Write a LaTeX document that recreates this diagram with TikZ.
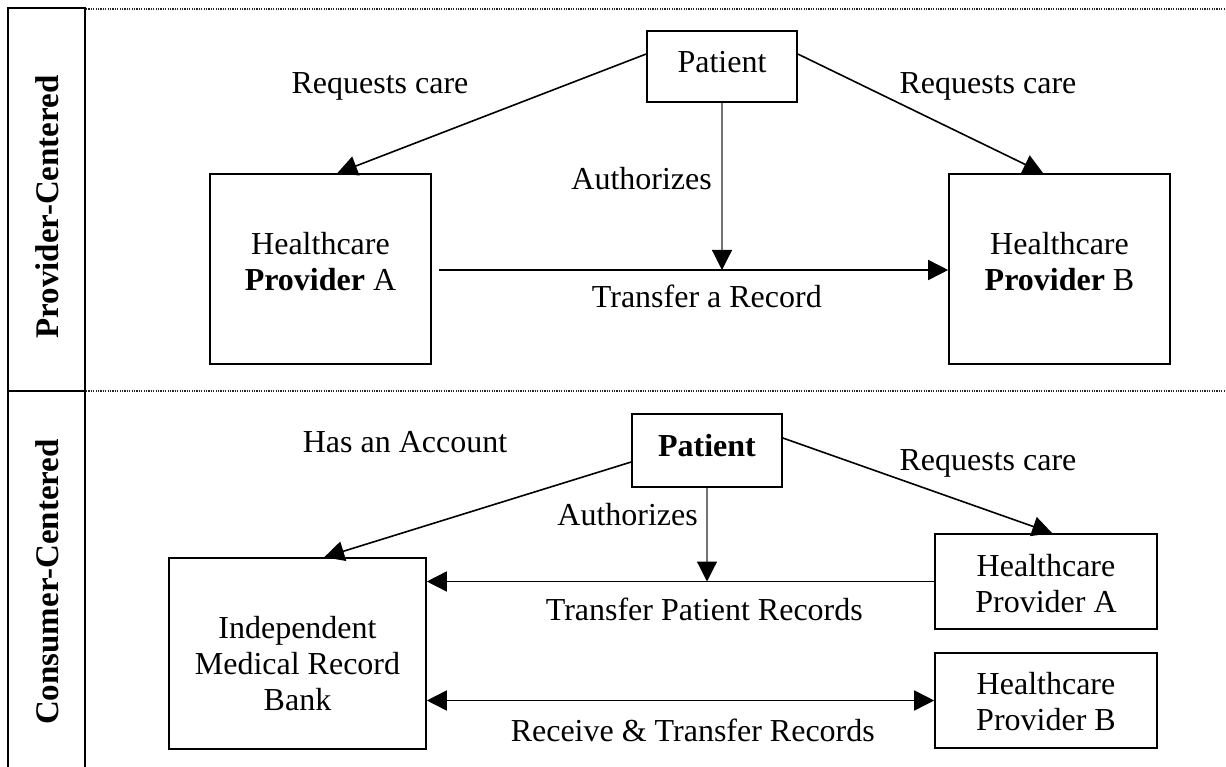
\documentclass[tikz,border=0pt]{standalone}
\usepackage{fontspec}
\setmainfont{Liberation Serif}
\usetikzlibrary{arrows.meta,calc}
\newcommand\diagfont{\fontsize{32}{36}\selectfont}
\newcommand\sidefont{\fontsize{33}{36}\selectfont\bfseries}
\tikzset{
  box/.style={draw, line width=1.6pt, inner sep=0pt},
  boxtext/.style={align=center, font=\diagfont, inner sep=0pt},
  arr/.style={-{Triangle[length=20pt,width=20pt]}, line width=1.6pt},
  darr/.style={{Triangle[length=20pt,width=20pt]}-{Triangle[length=20pt,width=20pt]}, line width=1.6pt},
  authline/.style={-{Triangle[length=20pt,width=20pt,color=black]}, line width=1.2pt, draw=black!55},
  lbl/.style={font=\diagfont, inner sep=0pt},
  sidelbl/.style={font=\sidefont, rotate=90, inner sep=0pt},
  divider/.style={line width=1.1pt, dash pattern=on 1.2pt off 1.2pt, black!85},
  frame/.style={line width=1.6pt}
}
\begin{document}
\begin{tikzpicture}[x=1pt, y=-1pt]
\useasboundingbox (0,0) rectangle (1226,767);

% side column and section dividers
\draw[frame] (8,767) -- (8,8) -- (85,8) -- (85,767);
\draw[line width=2.4pt] (8,391) -- (85,391);
\draw[divider] (86,9) -- (1226,9);
\draw[divider] (86,391) -- (1226,391);
\node[sidelbl] (secA) at (47,207) {Provider-Centered};
\node[sidelbl] (secB) at (47,582) {Consumer-Centered};

% provider-centered model
\node[box, minimum width=150pt, minimum height=71pt] (patT) at (722,66.5) {};
\node[boxtext] (patTt) at ($(patT)+(0,-4)$) {Patient};
\node[box, minimum width=221pt, minimum height=190pt] (provAT) at (320.5,269) {};
\node[boxtext] (provATt) at ($(provAT)+(0,-7)$) {Healthcare\\\textbf{Provider} A};
\node[box, minimum width=221pt, minimum height=190pt] (provBT) at (1059.5,269) {};
\node[boxtext] (provBTt) at ($(provBT)+(0,-7)$) {Healthcare\\\textbf{Provider} B};
\coordinate (xferT) at (439,270);

\draw[arr] ($(patT.west)+(0,-12.5)$) -- ($(provAT.north west)+(128,0)$);
\draw[arr] ($(patT.east)+(0,-12.5)$) -- ($(provBT.north west)+(95,0)$);
\draw[arr] (xferT) -- (xferT -| provBT.west);
\draw[authline] (patT.south) -- (patT.south |- xferT);

\node[lbl, anchor=base] (rqT1) at (380,94) {Requests care};
\node[lbl, anchor=base] (rqT2) at (988,94) {Requests care};
\node[lbl, anchor=base east] (auT) at (712,190) {Authorizes};
\node[lbl, anchor=base east] (trT) at (822,308) {Transfer a Record};

% consumer-centered model
\node[box, minimum width=150pt, minimum height=73pt] (patB) at (707,450.5) {};
\node[boxtext, font=\diagfont\bfseries] (patBt) at ($(patB)+(0,-5)$) {Patient};
\node[box, minimum width=257pt, minimum height=191pt] (bank) at (297.5,653.5) {};
\node[boxtext] (bankt) at ($(bank)+(0,10)$) {Independent\\Medical Record\\Bank};
\node[box, minimum width=222pt, minimum height=95pt] (provAB) at (1046,581.5) {};
\node[boxtext] (provABt) at ($(provAB)+(0,2)$) {Healthcare\\Provider A};
\node[box, minimum width=222pt, minimum height=95pt] (provBB) at (1046,700.5) {};
\node[boxtext] (provBBt) at ($(provBB)+(0,1)$) {Healthcare\\Provider B};

\draw[arr] ($(patB.west)+(0,11.5)$) -- ($(bank.north west)+(156,0)$);
\draw[arr] ($(patB.east)+(0,-12.5)$) -- ($(provAB.north west)+(118,0)$);
\draw[arr] (provAB.west) -- (provAB.west -| bank.east);
\draw[authline] (patB.south) -- (patB.south |- provAB.west);
\draw[darr] (bank.east |- provBB.west) -- (provBB.west);

\node[lbl, anchor=base] (acct) at (405,452) {Has an Account};
\node[lbl, anchor=base] (rqB) at (988,470) {Requests care};
\node[lbl, anchor=base east] (auB) at (698,525) {Authorizes};
\node[lbl, anchor=base east] (trB) at (863,620) {Transfer Patient Records};
\node[lbl, anchor=base east] (rtB) at (875,741) {Receive \& Transfer Records};
\end{tikzpicture}
\end{document}
